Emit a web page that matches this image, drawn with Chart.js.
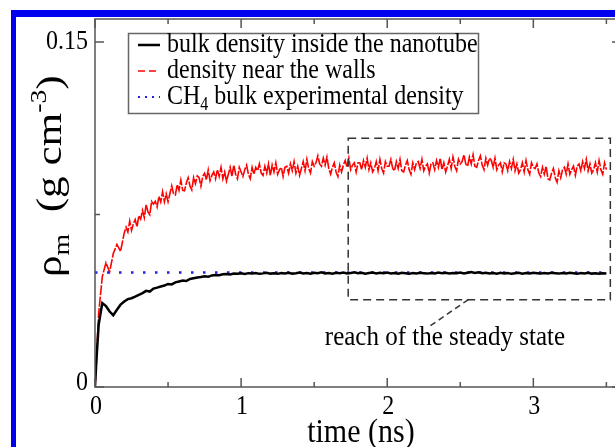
<!DOCTYPE html>
<html>
<head>
<meta charset="utf-8">
<script src="https://cdn.jsdelivr.net/npm/chart.js@4.4.0/dist/chart.umd.min.js"></script>
<style>
    html, body { margin: 0; padding: 0; background: #fff; overflow: hidden; width: 615px; height: 447px; }
    #frame { position: absolute; left: 11px; top: 10px; width: 700px; height: 500px;
             border-top: 7px solid #0000f0; border-left: 5px solid #0000f0; }
    #wrap { position: absolute; left: 0; top: 0; width: 640px; height: 447px; }
</style>
</head>
<body>
<div id="frame"></div>
<div id="wrap"><canvas id="densityChart"></canvas></div>
<script>
// Time axis for the bulk curve (ns)
const times = [
    0, 0.01, 0.025, 0.05, 0.075, 0.1, 0.125, 0.15, 0.175, 0.2,
    0.225, 0.25, 0.275, 0.3, 0.325, 0.35, 0.375, 0.4, 0.425, 0.45,
    0.475, 0.5, 0.525, 0.55, 0.575, 0.6, 0.625, 0.65, 0.675, 0.7,
    0.725, 0.75, 0.775, 0.8, 0.825, 0.85, 0.875, 0.9, 0.925, 0.95,
    0.975, 1, 1.025, 1.05, 1.075, 1.1, 1.125, 1.15, 1.175, 1.2,
    1.225, 1.25, 1.275, 1.3, 1.325, 1.35, 1.375, 1.4, 1.425, 1.45,
    1.475, 1.5, 1.525, 1.55, 1.575, 1.6, 1.625, 1.65, 1.675, 1.7,
    1.725, 1.75, 1.775, 1.8, 1.825, 1.85, 1.875, 1.9, 1.925, 1.95,
    1.975, 2, 2.025, 2.05, 2.075, 2.1, 2.125, 2.15, 2.175, 2.2,
    2.225, 2.25, 2.275, 2.3, 2.325, 2.35, 2.375, 2.4, 2.425, 2.45,
    2.475, 2.5, 2.525, 2.55, 2.575, 2.6, 2.625, 2.65, 2.675, 2.7,
    2.725, 2.75, 2.775, 2.8, 2.825, 2.85, 2.875, 2.9, 2.925, 2.95,
    2.975, 3, 3.025, 3.05, 3.075, 3.1, 3.125, 3.15, 3.175, 3.2,
    3.225, 3.25, 3.275, 3.3, 3.325, 3.35, 3.375, 3.4, 3.425, 3.45,
    3.475, 3.5
];

// Bulk density inside the nanotube (g cm-3)
const bulkDensity = [
    0, 0.012, 0.027, 0.0365, 0.0352, 0.0328, 0.0312, 0.0336, 0.0358, 0.0372,
    0.0382, 0.0386, 0.0393, 0.0401, 0.0408, 0.0418, 0.0415, 0.0428, 0.0432, 0.0437,
    0.0441, 0.0448, 0.0446, 0.0455, 0.0459, 0.0463, 0.0461, 0.0470, 0.0473, 0.0476,
    0.0478, 0.0481, 0.0479, 0.0485, 0.0487, 0.0486, 0.0490, 0.0491, 0.0489, 0.0493,
    0.0492, 0.0494, 0.0491, 0.0495, 0.0493, 0.0496, 0.0492, 0.0494, 0.0497, 0.0493,
    0.0495, 0.0492, 0.0496, 0.0494, 0.0497, 0.0493, 0.0495, 0.0498, 0.0494, 0.0496,
    0.0493, 0.0497, 0.0495, 0.0499, 0.0494, 0.0496, 0.0493, 0.0497, 0.0495, 0.0498,
    0.0494, 0.0496, 0.0499, 0.0495, 0.0497, 0.0493, 0.0496, 0.0498, 0.0494, 0.0497,
    0.0495, 0.0498, 0.0494, 0.0496, 0.0493, 0.0497, 0.0495, 0.0492, 0.0496, 0.0494,
    0.0497, 0.0495, 0.0493, 0.0496, 0.0494, 0.0498, 0.0495, 0.0497, 0.0494, 0.0496,
    0.0495, 0.0498, 0.0494, 0.0497, 0.0500, 0.0496, 0.0499, 0.0495, 0.0497, 0.0494,
    0.0496, 0.0493, 0.0497, 0.0494, 0.0496, 0.0492, 0.0495, 0.0497, 0.0493, 0.0496,
    0.0494, 0.0497, 0.0495, 0.0493, 0.0496, 0.0494, 0.0497, 0.0495, 0.0493, 0.0496,
    0.0494, 0.0497, 0.0495, 0.0492, 0.0496, 0.0494, 0.0497, 0.0493, 0.0495, 0.0492,
    0.0495, 0.0493
];

// Time axis for the wall curve (ns), sampled finer
const wallTimes = [
    0, 0.01, 0.025, 0.05, 0.075, 0.1, 0.125, 0.15, 0.175, 0.2,
    0.2125, 0.225, 0.2375, 0.25, 0.2625, 0.275, 0.2875, 0.3,
    0.3125, 0.325, 0.3375, 0.35, 0.3625, 0.375, 0.3875, 0.4,
    0.4125, 0.425, 0.4375, 0.45, 0.4625, 0.475, 0.4875, 0.5,
    0.5125, 0.525, 0.5375, 0.55, 0.5625, 0.575, 0.5875, 0.6,
    0.6125, 0.625, 0.6375, 0.65, 0.6625, 0.675, 0.6875, 0.7,
    0.7125, 0.725, 0.7375, 0.75, 0.7625, 0.775, 0.7875, 0.8,
    0.8125, 0.825, 0.8375, 0.85, 0.8625, 0.875, 0.8875, 0.9,
    0.9125, 0.925, 0.9375, 0.95, 0.9625, 0.975, 0.9875, 1,
    1.0125, 1.025, 1.0375, 1.05, 1.0625, 1.075, 1.0875, 1.1,
    1.1125, 1.125, 1.1375, 1.15, 1.1625, 1.175, 1.1875, 1.2,
    1.2125, 1.225, 1.2375, 1.25, 1.2625, 1.275, 1.2875, 1.3,
    1.3125, 1.325, 1.3375, 1.35, 1.3625, 1.375, 1.3875, 1.4,
    1.4125, 1.425, 1.4375, 1.45, 1.4625, 1.475, 1.4875, 1.5,
    1.5125, 1.525, 1.5375, 1.55, 1.5625, 1.575, 1.5875, 1.6,
    1.6125, 1.625, 1.6375, 1.65, 1.6625, 1.675, 1.6875, 1.7,
    1.7125, 1.725, 1.7375, 1.75, 1.7625, 1.775, 1.7875, 1.8,
    1.8125, 1.825, 1.8375, 1.85, 1.8625, 1.875, 1.8875, 1.9,
    1.9125, 1.925, 1.9375, 1.95, 1.9625, 1.975, 1.9875, 2,
    2.0125, 2.025, 2.0375, 2.05, 2.0625, 2.075, 2.0875, 2.1,
    2.1125, 2.125, 2.1375, 2.15, 2.1625, 2.175, 2.1875, 2.2,
    2.2125, 2.225, 2.2375, 2.25, 2.2625, 2.275, 2.2875, 2.3,
    2.3125, 2.325, 2.3375, 2.35, 2.3625, 2.375, 2.3875, 2.4,
    2.4125, 2.425, 2.4375, 2.45, 2.4625, 2.475, 2.4875, 2.5,
    2.5125, 2.525, 2.5375, 2.55, 2.5625, 2.575, 2.5875, 2.6,
    2.6125, 2.625, 2.6375, 2.65, 2.6625, 2.675, 2.6875, 2.7,
    2.7125, 2.725, 2.7375, 2.75, 2.7625, 2.775, 2.7875, 2.8,
    2.8125, 2.825, 2.8375, 2.85, 2.8625, 2.875, 2.8875, 2.9,
    2.9125, 2.925, 2.9375, 2.95, 2.9625, 2.975, 2.9875, 3,
    3.0125, 3.025, 3.0375, 3.05, 3.0625, 3.075, 3.0875, 3.1,
    3.1125, 3.125, 3.1375, 3.15, 3.1625, 3.175, 3.1875, 3.2,
    3.2125, 3.225, 3.2375, 3.25, 3.2625, 3.275, 3.2875, 3.3,
    3.3125, 3.325, 3.3375, 3.35, 3.3625, 3.375, 3.3875, 3.4,
    3.4125, 3.425, 3.4375, 3.45, 3.4625, 3.475, 3.4875, 3.5
];

// Density near the walls (g cm-3)
const wallDensity = [
    0, 0.012, 0.032, 0.048, 0.054, 0.050, 0.058, 0.062, 0.059, 0.067,
    0.0695, 0.0674, 0.0722, 0.0681, 0.0709, 0.0728, 0.0696, 0.0745,
    0.0730, 0.0768, 0.0736, 0.0793, 0.0761, 0.0749, 0.0807, 0.0795,
    0.0807, 0.0783, 0.0828, 0.0804, 0.0849, 0.0805, 0.0840, 0.0806,
    0.0840, 0.0875, 0.0840, 0.0835, 0.0880, 0.0855, 0.0900, 0.0855,
    0.0853, 0.0887, 0.0910, 0.0874, 0.0857, 0.0911, 0.0884, 0.0918,
    0.0910, 0.0873, 0.0916, 0.0929, 0.0901, 0.0944, 0.0897, 0.0920,
    0.0935, 0.0905, 0.0945, 0.0915, 0.0955, 0.0905, 0.0935, 0.0895,
    0.0925, 0.0955, 0.0915, 0.0965, 0.0925, 0.0905, 0.0955, 0.0935,
    0.0915, 0.0945, 0.0965, 0.0925, 0.0905, 0.0955, 0.0925, 0.0955,
    0.0940, 0.0970, 0.0930, 0.0920, 0.0960, 0.0930, 0.0970, 0.0920,
    0.0965, 0.0935, 0.0975, 0.0925, 0.0945, 0.0955, 0.0915, 0.0955,
    0.0960, 0.0930, 0.0970, 0.0940, 0.0980, 0.0930, 0.0960, 0.0920,
    0.0950, 0.0980, 0.0940, 0.0990, 0.0950, 0.0930, 0.0980, 0.0960,
    0.0975, 0.1005, 0.0970, 0.0960, 0.0995, 0.0965, 0.1000, 0.0950,
    0.0925, 0.0955, 0.0975, 0.0935, 0.0915, 0.0965, 0.0935, 0.0965,
    0.0985, 0.0955, 0.0995, 0.0945, 0.0965, 0.0975, 0.0935, 0.0975,
    0.0975, 0.0945, 0.0985, 0.0955, 0.0995, 0.0945, 0.0975, 0.0935,
    0.0950, 0.0980, 0.0940, 0.0990, 0.0950, 0.0930, 0.0980, 0.0960,
    0.0960, 0.0990, 0.0950, 0.0940, 0.0980, 0.0950, 0.0990, 0.0940,
    0.0935, 0.0965, 0.0985, 0.0945, 0.0925, 0.0975, 0.0945, 0.0975,
    0.0980, 0.0950, 0.0990, 0.0940, 0.0960, 0.0970, 0.0930, 0.0970,
    0.0975, 0.0945, 0.0985, 0.0955, 0.0995, 0.0945, 0.0975, 0.0935,
    0.0960, 0.0990, 0.0950, 0.1000, 0.0960, 0.0940, 0.0990, 0.0970,
    0.0980, 0.1010, 0.0970, 0.0960, 0.1000, 0.0970, 0.1010, 0.0960,
    0.0955, 0.0985, 0.1005, 0.0965, 0.0945, 0.0995, 0.0965, 0.0995,
    0.0985, 0.0955, 0.0995, 0.0945, 0.0965, 0.0975, 0.0935, 0.0975,
    0.0970, 0.0940, 0.0980, 0.0950, 0.0990, 0.0940, 0.0970, 0.0930,
    0.0945, 0.0975, 0.0935, 0.0985, 0.0945, 0.0925, 0.0975, 0.0955,
    0.0950, 0.0970, 0.0930, 0.0915, 0.0955, 0.0925, 0.0960, 0.0905,
    0.0900, 0.0930, 0.0950, 0.0910, 0.0890, 0.0940, 0.0910, 0.0945,
    0.0955, 0.0925, 0.0970, 0.0925, 0.0945, 0.0960, 0.0920, 0.0960,
    0.0970, 0.0940, 0.0980, 0.0950, 0.0990, 0.0940, 0.0970, 0.0930,
    0.0945, 0.0975, 0.0935, 0.0985, 0.0945, 0.0925, 0.0975, 0.0945
];

// CH4 bulk experimental density (reference line)
const expTimes = [0, 3.5];
const expDensity = [0.0498, 0.0498];

// Axis ticks
const xTicks = [0, 1, 2, 3];
const xMinorTicks = [0.5, 1.5, 2.5, 3.5];
const yTicks = [0, 0.15];
const yTickLabels = ['0', '0.15'];
const yMinorTicks = [0.075];

// Steady state annotation (data units)
const steadyBoxX = [1.733, 3.527];
const steadyBoxY = [0.0379, 0.1082];
const steadyPointer = [[2.555, 0.038], [2.281, 0.026]];
const steadyLabel = 'reach of the steady state';

const serif = '"Liberation Serif", "Times New Roman", serif';
const stretch = 1.12;

function toPoints(xs, ys) {
    return xs.map((x, i) => ({ x: x, y: ys[i] }));
}

// Draw text slightly stretched vertically, like the source figure
function drawText(ctx, text, x, y, size, align) {
    ctx.save();
    ctx.translate(x, y);
    ctx.scale(1, stretch);
    ctx.font = size + 'px ' + serif;
    ctx.textAlign = align || 'left';
    ctx.textBaseline = 'middle';
    ctx.fillStyle = '#000';
    ctx.fillText(text, 0, 0);
    ctx.restore();
}

const framePlugin = {
    id: 'framePlugin',
    afterDatasetsDraw(chart) {
        const ctx = chart.ctx;
        const area = chart.chartArea;
        const xs = chart.scales.x;
        const ys = chart.scales.y;

        // Steady state box and pointer
        ctx.save();
        ctx.strokeStyle = '#333';
        ctx.lineWidth = 1.5;
        ctx.setLineDash([8, 5]);
        const bx0 = xs.getPixelForValue(steadyBoxX[0]);
        const bx1 = xs.getPixelForValue(steadyBoxX[1]);
        const by0 = ys.getPixelForValue(steadyBoxY[1]);
        const by1 = ys.getPixelForValue(steadyBoxY[0]);
        ctx.strokeRect(bx0, by0, bx1 - bx0, by1 - by0);
        ctx.beginPath();
        ctx.setLineDash([6, 4]);
        ctx.moveTo(xs.getPixelForValue(steadyPointer[0][0]), ys.getPixelForValue(steadyPointer[0][1]));
        ctx.lineTo(xs.getPixelForValue(steadyPointer[1][0]), ys.getPixelForValue(steadyPointer[1][1]));
        ctx.stroke();
        ctx.restore();
        drawText(ctx, steadyLabel, xs.getPixelForValue(2.395), ys.getPixelForValue(0.0215), 25, 'center');

        // Frame and inward ticks
        ctx.save();
        ctx.strokeStyle = '#555';
        ctx.lineWidth = 1.5;
        ctx.strokeRect(area.left, area.top, area.right - area.left, area.bottom - area.top);
        ctx.beginPath();
        const tickX = (v, len) => {
            const px = xs.getPixelForValue(v);
            ctx.moveTo(px, area.bottom); ctx.lineTo(px, area.bottom - len);
            ctx.moveTo(px, area.top); ctx.lineTo(px, area.top + len);
        };
        const tickY = (v, len) => {
            const py = ys.getPixelForValue(v);
            ctx.moveTo(area.left, py); ctx.lineTo(area.left + len, py);
            ctx.moveTo(area.right, py); ctx.lineTo(area.right - len, py);
        };
        xTicks.forEach(v => tickX(v, 9));
        xMinorTicks.forEach(v => tickX(v, 5));
        yTicks.forEach(v => tickY(v, 9));
        yMinorTicks.forEach(v => tickY(v, 5));
        ctx.stroke();
        ctx.restore();

        // Tick labels
        xTicks.forEach(v => drawText(ctx, String(v), xs.getPixelForValue(v) + 1, area.bottom + 20, 24, 'center'));
        yTicks.forEach((v, i) => drawText(ctx, yTickLabels[i], area.left - 7, ys.getPixelForValue(v) - (v === 0 ? 4 : 0), 24, 'right'));

        // Axis titles
        drawText(ctx, 'time (ns)', xs.getPixelForValue(1.82), area.bottom + 46, 30, 'center');

        ctx.save();
        ctx.translate(61, 277);
        ctx.rotate(-Math.PI / 2);
        ctx.scale(1.2, 1);
        ctx.fillStyle = '#000';
        ctx.textBaseline = 'alphabetic';
        let x = 0;
        const part = (t, size, dy) => {
            ctx.font = size + 'px ' + serif;
            ctx.fillText(t, x, dy);
            x += ctx.measureText(t).width;
        };
        part('\u03c1', 36, 0);
        part('m', 23, 8);
        part('  (g cm', 36, 0);
        part('-3', 23, -15);
        part(')', 36, 0);
        ctx.restore();

        // Legend
        ctx.save();
        ctx.strokeStyle = '#666';
        ctx.lineWidth = 1.5;
        ctx.strokeRect(128.5, 33.5, 350, 80);
        const rows = [45, 71, 97];
        chart.data.datasets.forEach((ds, i) => {
            ctx.beginPath();
            ctx.strokeStyle = ds.borderColor;
            ctx.lineWidth = ds.legendWidth;
            ctx.setLineDash(ds.legendDash);
            ctx.moveTo(138, rows[i]);
            ctx.lineTo(160, rows[i]);
            ctx.stroke();
        });
        ctx.restore();
        drawText(ctx, chart.data.datasets[0].label, 167, rows[0], 24);
        drawText(ctx, chart.data.datasets[1].label, 167, rows[1], 24);
        // CH4 with subscript
        ctx.save();
        ctx.font = '24px ' + serif;
        const chW = ctx.measureText('CH').width;
        ctx.font = '16px ' + serif;
        const subW = ctx.measureText('4').width;
        ctx.restore();
        drawText(ctx, 'CH', 167, rows[2], 24);
        drawText(ctx, '4', 167 + chW, rows[2] + 8, 16);
        drawText(ctx, ' bulk experimental density', 167 + chW + subW, rows[2], 24);
    }
};

const ctx = document.getElementById('densityChart').getContext('2d');
const densityChart = new Chart(ctx, {
    type: 'line',
    data: {
        datasets: [{
            label: 'bulk density inside the nanotube',
            data: toPoints(times, bulkDensity),
            borderColor: '#000',
            borderWidth: 2.5,
            legendWidth: 2.5,
            legendDash: [],
            order: 0
        }, {
            label: 'density near the walls',
            data: toPoints(wallTimes, wallDensity),
            borderColor: '#ff0000',
            borderWidth: 1.6,
            borderDash: [10, 1.5],
            legendWidth: 1.5,
            legendDash: [7, 4],
            order: 2
        }, {
            label: 'CH4 bulk experimental density',
            data: toPoints(expTimes, expDensity),
            borderColor: '#2020e8',
            borderWidth: 2.5,
            borderDash: [2.5, 9.5],
            legendWidth: 2,
            legendDash: [2, 5],
            order: 1
        }]
    },
    options: {
        responsive: true,
        maintainAspectRatio: false,
        animation: false,
        devicePixelRatio: 1,
        layout: { padding: { top: 19, right: 19, bottom: 0, left: 0 } },
        elements: { point: { radius: 0 }, line: { tension: 0 } },
        scales: {
            x: {
                type: 'linear', min: 0, max: 3.6,
                grid: { display: false }, border: { display: false },
                ticks: { display: false },
                afterFit: s => { s.height = 60; }
            },
            y: {
                type: 'linear', min: 0, max: 0.16,
                grid: { display: false }, border: { display: false },
                ticks: { display: false },
                afterFit: s => { s.width = 95; }
            }
        },
        plugins: { legend: { display: false }, tooltip: { enabled: false } }
    },
    plugins: [framePlugin]
});
</script>
</body>
</html>
